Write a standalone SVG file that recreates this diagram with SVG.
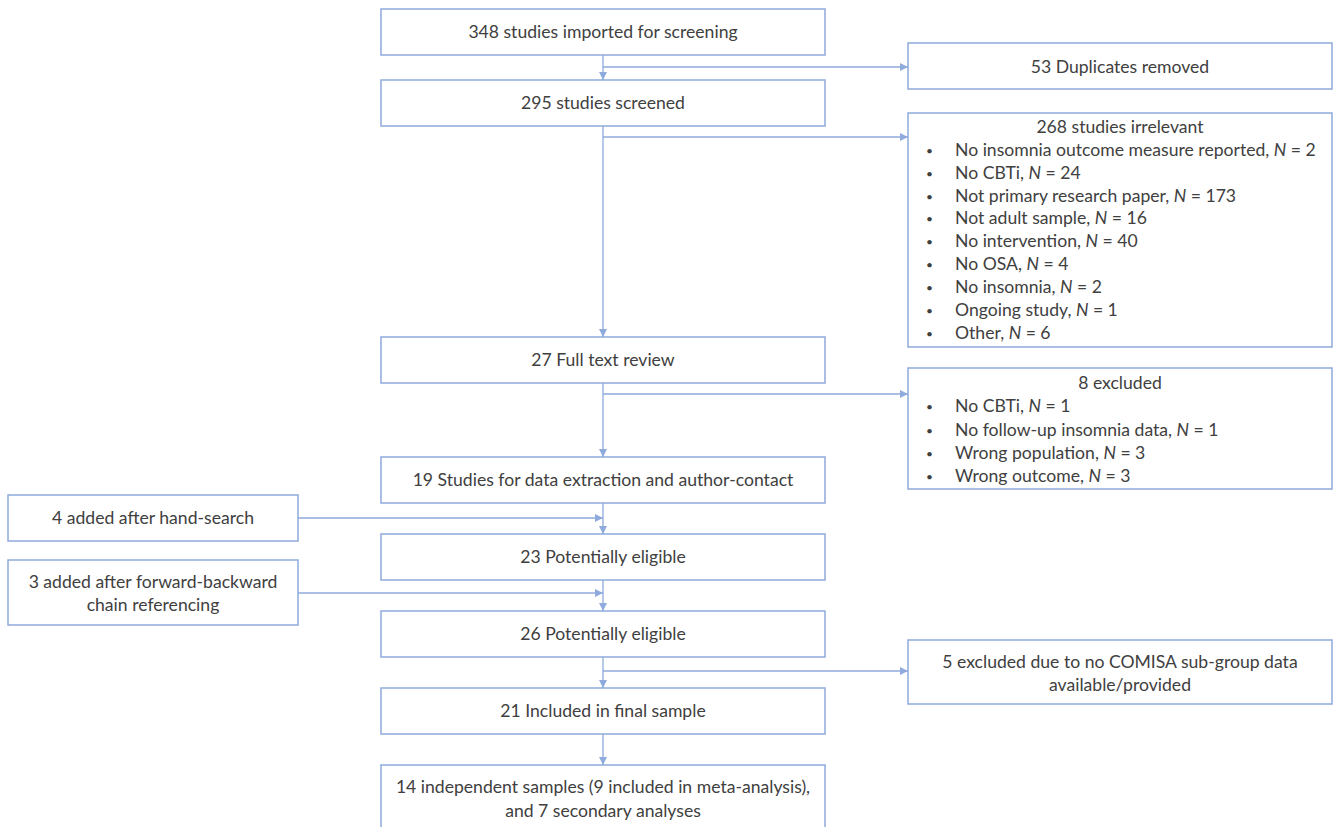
<svg xmlns="http://www.w3.org/2000/svg" width="1333" height="827" viewBox="0 0 1333 827">
<style>
.box{fill:#fff;stroke:#8faadc;stroke-width:1.5}
.t{font-family:Lato,"Open Sans",sans-serif;font-size:17.6px;fill:#404040}
.c{text-anchor:middle}
.b{font-size:12px}
.ln{stroke:#8faadc;stroke-width:1.3;fill:none;marker-end:url(#ah)}
</style>
<defs>
<marker id="ah" viewBox="0 0 10 10" refX="10" refY="5" markerWidth="8" markerHeight="8" markerUnits="userSpaceOnUse" orient="auto">
<path d="M0,0 L10,5 L0,10 z" fill="#8faadc"/>
</marker>
</defs>
<rect width="1333" height="827" fill="#fff"/>
<g id="connectors">
<line class="ln" x1="603" y1="55" x2="603" y2="80"/>
<line class="ln" x1="603" y1="67" x2="908" y2="67"/>
<line class="ln" x1="603" y1="126" x2="603" y2="337"/>
<line class="ln" x1="603" y1="137" x2="908" y2="137"/>
<line class="ln" x1="603" y1="383" x2="603" y2="457"/>
<line class="ln" x1="603" y1="394" x2="908" y2="394"/>
<line class="ln" x1="603" y1="503" x2="603" y2="534"/>
<line class="ln" x1="298" y1="518" x2="603" y2="518"/>
<line class="ln" x1="603" y1="580" x2="603" y2="611"/>
<line class="ln" x1="298" y1="593" x2="603" y2="593"/>
<line class="ln" x1="603" y1="657" x2="603" y2="688"/>
<line class="ln" x1="603" y1="671" x2="908" y2="671"/>
<line class="ln" x1="603" y1="734" x2="603" y2="765"/>
</g>
<g id="n1"><rect class="box" x="381" y="9" width="444" height="46"/><text class="t c" x="603" y="38">348 studies imported for screening</text></g>
<g id="n2"><rect class="box" x="381" y="80" width="444" height="46"/><text class="t c" x="603" y="109">295 studies screened</text></g>
<g id="n3"><rect class="box" x="381" y="337" width="444" height="46"/><text class="t c" x="603" y="366">27 Full text review</text></g>
<g id="n4"><rect class="box" x="381" y="457" width="444" height="46"/><text class="t c" x="603" y="486">19 Studies for data extraction and author-contact</text></g>
<g id="n5"><rect class="box" x="381" y="534" width="444" height="46"/><text class="t c" x="603" y="563">23 Potentially eligible</text></g>
<g id="n6"><rect class="box" x="381" y="611" width="444" height="46"/><text class="t c" x="603" y="640">26 Potentially eligible</text></g>
<g id="n7"><rect class="box" x="381" y="688" width="444" height="46"/><text class="t c" x="603" y="717">21 Included in final sample</text></g>
<g id="n8"><rect class="box" x="381" y="765" width="444" height="80"/><text class="t c" x="603" y="793">14 independent samples (9 included in meta-analysis),</text><text class="t c" x="603" y="817">and 7 secondary analyses</text></g>
<g id="r1"><rect class="box" x="908" y="43" width="424" height="46"/><text class="t c" x="1120" y="73">53 Duplicates removed</text></g>
<g id="r2"><rect class="box" x="908" y="113" width="424" height="234"/>
<text class="t c" x="1120" y="133">268 studies irrelevant</text>
<g class="t">
<text class="b" x="926" y="155">•</text><text x="955" y="156">No insomnia outcome measure reported, <tspan font-style="italic">N</tspan> = 2</text>
<text class="b" x="926" y="178">•</text><text x="955" y="179">No CBTi, <tspan font-style="italic">N</tspan> = 24</text>
<text class="b" x="926" y="201">•</text><text x="955" y="202">Not primary research paper, <tspan font-style="italic">N</tspan> = 173</text>
<text class="b" x="926" y="223">•</text><text x="955" y="224">Not adult sample, <tspan font-style="italic">N</tspan> = 16</text>
<text class="b" x="926" y="246">•</text><text x="955" y="247">No intervention, <tspan font-style="italic">N</tspan> = 40</text>
<text class="b" x="926" y="269">•</text><text x="955" y="270">No OSA, <tspan font-style="italic">N</tspan> = 4</text>
<text class="b" x="926" y="292">•</text><text x="955" y="293">No insomnia, <tspan font-style="italic">N</tspan> = 2</text>
<text class="b" x="926" y="315">•</text><text x="955" y="316">Ongoing study, <tspan font-style="italic">N</tspan> = 1</text>
<text class="b" x="926" y="338">•</text><text x="955" y="339">Other, <tspan font-style="italic">N</tspan> = 6</text>
</g></g>
<g id="r3"><rect class="box" x="908" y="368" width="424" height="121"/>
<text class="t c" x="1120" y="389">8 excluded</text>
<g class="t">
<text class="b" x="926" y="411">•</text><text x="955" y="412">No CBTi, <tspan font-style="italic">N</tspan> = 1</text>
<text class="b" x="926" y="435">•</text><text x="955" y="436">No follow-up insomnia data, <tspan font-style="italic">N</tspan> = 1</text>
<text class="b" x="926" y="458">•</text><text x="955" y="459">Wrong population, <tspan font-style="italic">N</tspan> = 3</text>
<text class="b" x="926" y="481">•</text><text x="955" y="482">Wrong outcome, <tspan font-style="italic">N</tspan> = 3</text>
</g></g>
<g id="r4"><rect class="box" x="908" y="640" width="424" height="64"/><text class="t c" x="1120" y="668">5 excluded due to no COMISA sub-group data</text><text class="t c" x="1120" y="691">available/provided</text></g>
<g id="l1"><rect class="box" x="8" y="495" width="290" height="46"/><text class="t c" x="153" y="524">4 added after hand-search</text></g>
<g id="l2"><rect class="box" x="8" y="560" width="290" height="65"/><text class="t c" x="153" y="588">3 added after forward-backward</text><text class="t c" x="153" y="611">chain referencing</text></g>
</svg>
